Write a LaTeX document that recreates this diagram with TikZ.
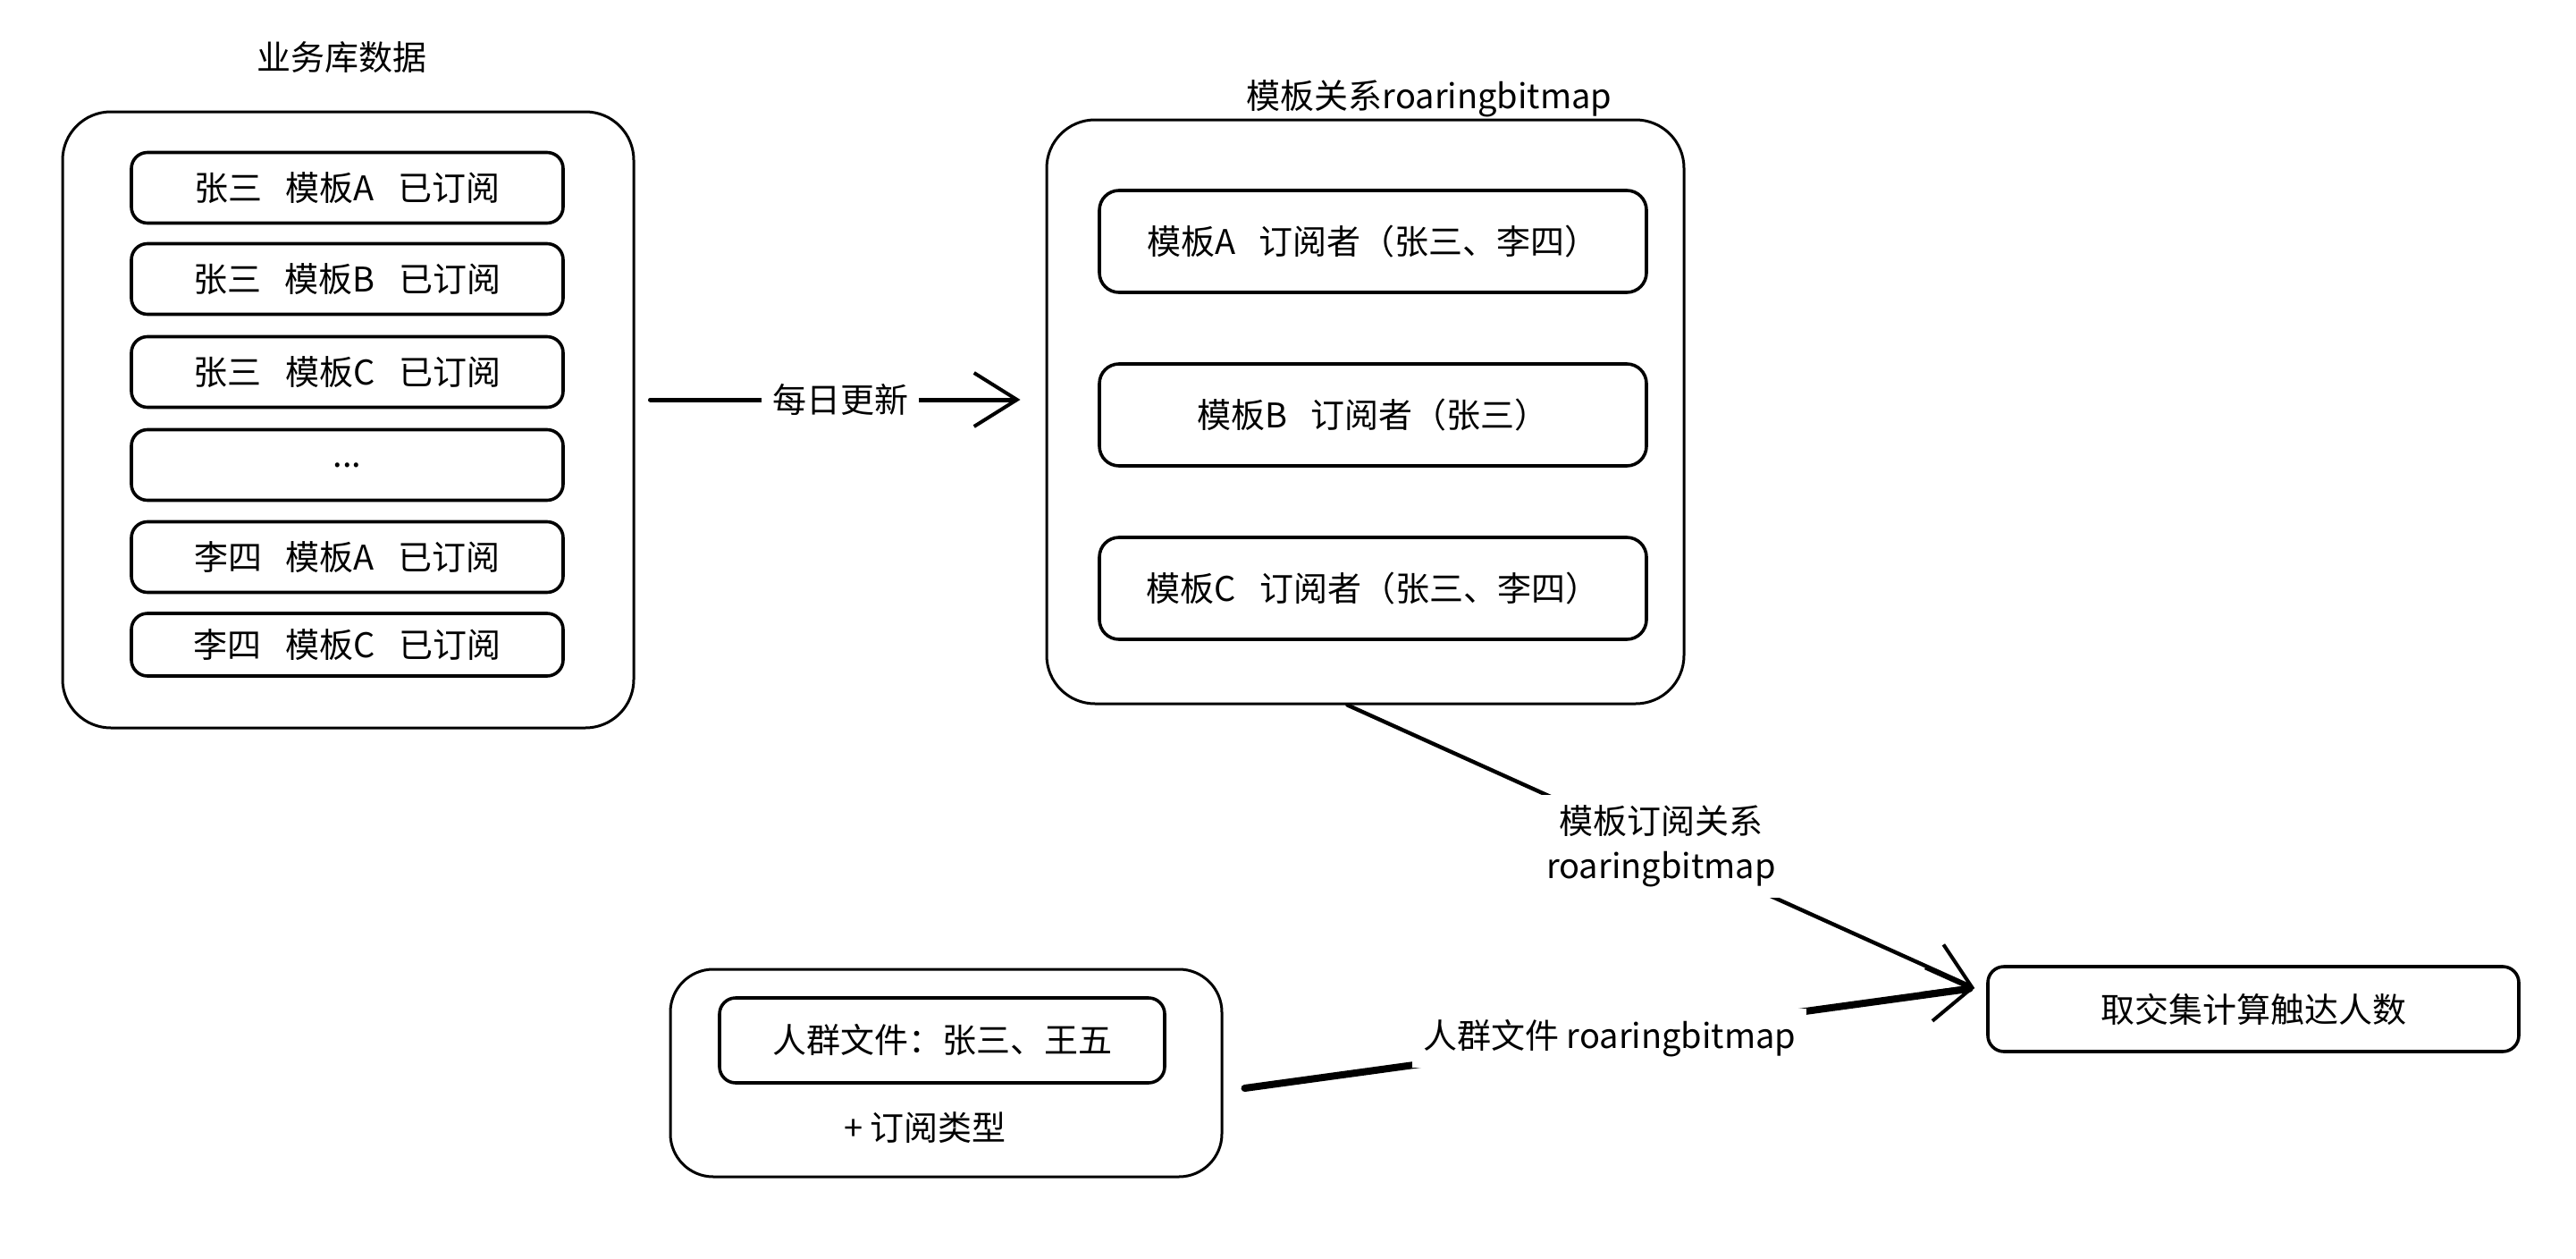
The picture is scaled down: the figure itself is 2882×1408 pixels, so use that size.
\documentclass[tikz,border=0pt]{standalone}
\usepackage{fontspec}
\setmainfont{Noto Sans CJK SC}
\usetikzlibrary{arrows.meta}
\newcommand{\gapw}{\hspace{0.7em}}
\tikzset{
  every node/.style={font=\fontsize{19pt}{25pt}\selectfont, inner sep=2pt},
  outerbox/.style={draw, line width=1.5pt, rounded corners=27pt},
  rowbox/.style={draw, line width=1.8pt, rounded corners=9pt, minimum width=241.5pt, minimum height=39.5pt},
  tplbox/.style={draw, line width=1.8pt, rounded corners=11pt, minimum width=306pt, minimum height=57pt},
  edgelbl/.style={fill=white, inner sep=6pt, align=center},
  conn/.style={line cap=round, -{Straight Barb[length=24pt,width=30pt,line width=2pt]}},
}
\begin{document}
\begin{tikzpicture}[x=0.5pt, y=-0.5pt]
\useasboundingbox (0,0) rectangle (2882,1408);

% left block
\node (t1) at (382,64) {业务库数据};
\node[outerbox, minimum width=319.5pt, minimum height=344.5pt] (L) at (389.5,469.5) {};
\node[rowbox] (r1) at (388.5,210) {张三\gapw 模板A\gapw 已订阅};
\node[rowbox] (r2) at (388.5,312) {张三\gapw 模板B\gapw 已订阅};
\node[rowbox] (r3) at (388.5,416) {张三\gapw 模板C\gapw 已订阅};
\node[rowbox] (r4) at (388.5,520) {...};
\node[rowbox] (r5) at (388.5,623) {李四\gapw 模板A\gapw 已订阅};
\node[rowbox, minimum height=35pt] (r6) at (388.5,721) {李四\gapw 模板C\gapw 已订阅};

% middle block
\node (t2) at (1599,110) {模板关系roaringbitmap};
\node[outerbox, minimum width=356.5pt, minimum height=326.5pt] (M) at (1527.5,460.5) {};
\node[tplbox] (m1) at (1536,270) {模板A\gapw 订阅者（张三、李四）};
\node[tplbox] (m2) at (1536,464) {模板B\gapw 订阅者（张三）};
\node[tplbox] (m3) at (1536,658) {模板C\gapw 订阅者（张三、李四）};

% result box
\node[draw, line width=1.8pt, rounded corners=9pt, minimum width=297pt, minimum height=47.5pt] (R) at (2521,1128.5) {取交集计算触达人数};

% bottom block
\node[outerbox, rounded corners=24pt, minimum width=308.5pt, minimum height=116pt] (B) at (1058.5,1200) {};
\node[draw, line width=1.8pt, rounded corners=9pt, minimum width=249pt, minimum height=47.5pt] (b1) at (1054,1163.5) {人群文件：张三、王五};
\node (b2) at (1035,1261) {+ 订阅类型};

% connectors
\draw[conn, line width=2.5pt, shorten <=8.5pt, shorten >=14pt]
  ([yshift=11.25pt]L.east) -- node[edgelbl] {每日更新} ([yshift=6.75pt]M.west);
\draw[conn, line width=2.2pt]
  ([xshift=-10pt]M.south) -- node[edgelbl] {模板订阅关系\\roaringbitmap} ([shift={(-6.5pt,11.75pt)}]R.west);
\draw[conn, line width=4pt]
  ([shift={(12pt,-8.5pt)}]B.east) -- node[edgelbl] {人群文件 roaringbitmap} ([shift={(-6.5pt,11.75pt)}]R.west);
\end{tikzpicture}
\end{document}
